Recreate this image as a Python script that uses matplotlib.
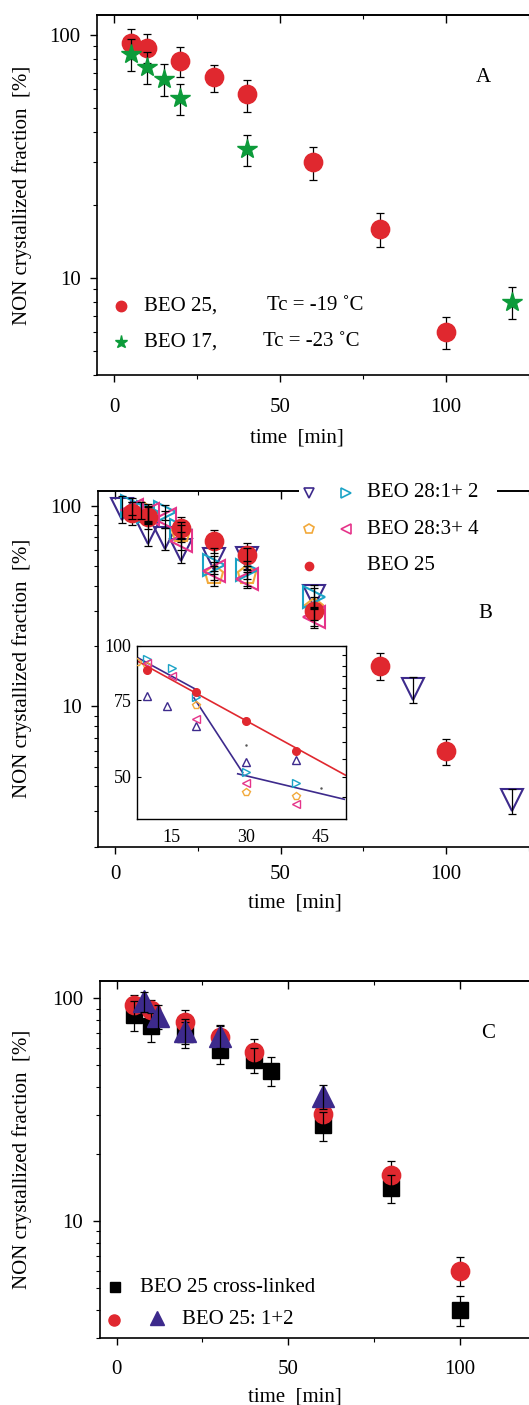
import matplotlib
matplotlib.use('Agg')
import matplotlib.pyplot as plt
from matplotlib.lines import Line2D
from matplotlib.patches import Rectangle
from matplotlib.ticker import FixedLocator, NullFormatter, LogLocator

plt.rcParams['font.family'] = ['Liberation Serif', 'DejaVu Serif']

# ---------------- data ----------------
# Panel A
a_beo25_t = [5, 10, 20, 30, 40, 60, 80, 100]
a_beo25_y = [92.5, 88.7, 78.2, 67, 57, 30, 16, 6.0]
a_beo25_e = [13, 12, 11, 8.5, 8.5, 4.6, 2.5, 0.9]
a_beo17_t = [5, 10, 15, 20, 40, 120]
a_beo17_y = [84, 74, 66, 55, 34, 8.0]
a_beo17_e = [12.5, 11, 10, 8, 5, 1.2]

# Panel B (main)
b_beo25_t = [5, 10, 20, 30, 40, 60, 80, 100]
b_beo25_y = [92, 88, 77.5, 67, 57, 29.8, 16, 6.0]
b_beo25_e = [12, 11, 10, 8.5, 8.5, 4.5, 2.5, 0.9]
b28_1_t = [2, 10, 15, 20, 30, 40, 60, 90, 120]
b28_1_y = [97, 73, 69, 60, 54.5, 55, 35.5, 12.2, 3.4]
b28_1_e = [15, 10, 9, 8, 7, 7, 5, 1.8, 0.5]
b28_2_t = [5, 10, 15, 20, 30, 40, 60]
b28_2_y = [100, 93, 93, 76, 51, 48, 35]
b28_2_e = [10, 9, 8, 7, 5, 5, 4]
b28_3_t = [8, 10, 20, 30, 40, 60]
b28_3_y = [95, 90, 73, 45, 45, 31]
b28_3_e = [9, 9, 7, 5, 5, 4]
b28_4_t = [5, 10, 15, 20, 30, 40, 60]
b28_4_y = [95, 91, 86, 67, 47.5, 43, 28]
b28_4_e = [9, 9, 8, 7, 5, 4, 3.5]

# Panel B (inset)
in_b28_1_t = [10, 14, 20, 30, 40]
in_b28_1_y = [76.6, 72.7, 65.5, 54.0, 54.5]
in_b28_2_t = [10, 15, 20, 30, 40]
in_b28_2_y = [93.3, 89.1, 76.2, 51.3, 48.3]
in_b28_3_t = [8, 10, 20, 30, 40]
in_b28_3_y = [91.6, 90, 73, 46.2, 45.2]
in_b28_4_t = [10, 15, 20, 30, 40]
in_b28_4_y = [91.2, 85.1, 68.0, 48.3, 43.2]
in_beo25_t = [10, 20, 30, 40]
in_beo25_y = [88.1, 78.3, 67.2, 57.3]
in_dots_t = [30, 45]
in_dots_y = [59.2, 47.1]
fit_beo25_t = [8, 50]
fit_beo25_y = [92.4, 50.4]
fit_b28_seg1_t = [7.8, 19.7]
fit_b28_seg1_y = [94.4, 79.6]
fit_b28_seg2_t = [19.5, 29.3]
fit_b28_seg2_y = [75.9, 51.1]
fit_b28_seg3_t = [28.3, 49.7]
fit_b28_seg3_y = [50.8, 44.4]

# Panel C
c_xl_t = [5, 10, 20, 30, 40, 45, 60, 80, 100]
c_xl_y = [84, 75, 69, 58.7, 53, 47.3, 26.9, 14.1, 4.0]
c_xl_e = [13, 11, 9, 8, 7, 7, 4, 2, 0.6]
c_beo25_t = [5, 10, 20, 30, 40, 60, 80, 100]
c_beo25_y = [93, 88.6, 78.6, 67.3, 57.7, 30.3, 16.1, 6.0]
c_beo25_e = [11, 10, 10, 8, 8, 4.5, 2.5, 0.9]
c_tri_t = [8, 12, 20, 30, 60]
c_tri_y = [97, 83, 71.5, 68, 36.3]
c_tri_e = [10, 10, 9, 8, 4.5]

xticks_major = [0, 50, 100]
xticks_minor = [25, 75, 125]

# ---------------- colours ----------------
RED = '#E0282F'
GREEN = '#0C9B3A'
PURPLE = '#3D2A8C'
CYAN = '#1BA3C6'
ORANGE = '#F2A93B'
PINK = '#E5348A'

W, H = 529, 1405
fig = plt.figure(figsize=(W / 100, H / 100), dpi=100)


def fx(px):
    return px / W


def fy(py):
    return 1 - py / H


def axes_px(l, t, r, b):
    return fig.add_axes([l / W, 1 - b / H, (r - l) / W, (b - t) / H])


def style_main(ax, ylim, xpad):
    ax.set_yscale('log')
    ax.set_xlim(-5, 130)
    ax.set_ylim(*ylim)
    ax.set_xticks(xticks_major)
    ax.set_xticklabels([str(v) for v in xticks_major])
    ax.xaxis.set_minor_locator(FixedLocator(xticks_minor))
    ax.set_yticks([10, 100])
    ax.set_yticklabels(['10', '100'])
    ax.yaxis.set_minor_locator(LogLocator(base=10, subs=range(2, 10), numticks=20))
    ax.yaxis.set_minor_formatter(NullFormatter())
    ax.tick_params(which='major', direction='out', length=5, width=1.0,
                   labelsize=15, top=False, right=False)
    ax.tick_params(which='minor', direction='out', length=3, width=0.8,
                   top=False, right=False)
    ax.tick_params(axis='x', which='major', pad=xpad)
    ax.tick_params(axis='y', which='major', pad=7)
    for s in ax.spines.values():
        s.set_linewidth(1.2)
    ax.spines['right'].set_visible(False)
    sec = ax.secondary_xaxis('top')
    sec.set_xticks(xticks_major)
    sec.xaxis.set_minor_locator(FixedLocator(xticks_minor))
    sec.tick_params(which='major', direction='in', length=6, width=1.0, labeltop=False)
    sec.tick_params(which='minor', direction='in', length=3, width=0.8)
    sec.spines['top'].set_linewidth(1.2)


def eb(ax, t, y, e, z):
    ax.errorbar(t, y, yerr=e, fmt='none', ecolor='black', elinewidth=0.9,
                capsize=3, capthick=0.9, zorder=z)


def fig_marker(x, y, **kw):
    fig.add_artist(Line2D([fx(x)], [fy(y)], transform=fig.transFigure,
                          linestyle='none', zorder=6, **kw))


def fig_text(x, y, s, size=15, ha='left', **kw):
    fig.text(fx(x), fy(y), s, ha=ha, va='center', fontsize=size, zorder=6, **kw)


def panel_labels(top, bottom):
    fig_text(22, (top + bottom) / 2, 'NON crystallized fraction  [%]',
             ha='center', rotation=90)


# ---------------- Panel A ----------------
axA = axes_px(97.4, 15, 545.6, 375)
style_main(axA, (4, 121), 11.5)
eb(axA, a_beo25_t, a_beo25_y, a_beo25_e, 2)
axA.plot(a_beo25_t, a_beo25_y, 'o', color=RED, ms=13.2, mec=RED, zorder=3)
eb(axA, a_beo17_t, a_beo17_y, a_beo17_e, 4)
axA.plot(a_beo17_t, a_beo17_y, '*', color=GREEN, ms=15, mec=GREEN, zorder=5)
panel_labels(15, 375)
fig_text(297, 438, 'time  [min]', ha='center')
fig_text(483, 77, 'A', ha='center')
fig_marker(121, 306, marker='o', color=RED, ms=7.5, mec=RED)
fig_text(144, 306, 'BEO 25,')
fig_text(267, 306, 'Tc = -19 ˚C')
fig_marker(121, 342, marker='*', color=GREEN, ms=9.5, mec=GREEN)
fig_text(144, 342, 'BEO 17,')
fig_text(263, 342, 'Tc = -23 ˚C')

# ---------------- Panel B ----------------
axB = axes_px(98.45, 490.7, 545.3, 846.7)
style_main(axB, (2.0, 119), 7.9)
open_kw = dict(mfc='none', linestyle='none', zorder=3)
axB.plot(b28_1_t, b28_1_y, marker='v', ms=15.6, mec=PURPLE, mew=1.5, **open_kw)
axB.plot(b28_3_t, b28_3_y, marker='p', ms=14, mec=ORANGE, mew=1.5, **open_kw)
axB.plot(b28_2_t, b28_2_y, marker='>', ms=15.6, mec=CYAN, mew=1.5, **open_kw)
axB.plot(b28_4_t, b28_4_y, marker='<', ms=15.6, mec=PINK, mew=1.5, **open_kw)
eb(axB, b_beo25_t, b_beo25_y, b_beo25_e, 2)
axB.plot(b_beo25_t, b_beo25_y, 'o', color=RED, ms=13.2, mec=RED, zorder=4)
for t, y, e in [(b28_1_t, b28_1_y, b28_1_e), (b28_2_t, b28_2_y, b28_2_e),
                (b28_3_t, b28_3_y, b28_3_e), (b28_4_t, b28_4_y, b28_4_e)]:
    eb(axB, t, y, e, 5)
panel_labels(490.7, 846.7)
fig_text(295, 903, 'time  [min]', ha='center')
fig_text(485, 614, 'B', ha='center')

# legend B (covers top spine)
fig.add_artist(Rectangle((fx(299), fy(500)), fx(497) - fx(299), fy(482) - fy(500),
                         transform=fig.transFigure, facecolor='white',
                         edgecolor='none', zorder=5))
lg_kw = dict(mfc='none', mew=1.2)
fig_marker(309, 492.7, marker='v', ms=7, mec=PURPLE, **lg_kw)
fig_marker(346, 492.7, marker='>', ms=7, mec=CYAN, **lg_kw)
fig_text(367, 492.7, 'BEO 28:1+ 2')
fig_marker(309, 529, marker='p', ms=7, mec=ORANGE, **lg_kw)
fig_marker(346, 529, marker='<', ms=7, mec=PINK, **lg_kw)
fig_text(367, 529, 'BEO 28:3+ 4')
fig_marker(309, 565.7, marker='o', ms=6, color=RED, mec=RED)
fig_text(367, 565.7, 'BEO 25')

# inset
axI = axes_px(136.7, 645.7, 345.7, 819)
axI.set_yscale('log')
axI.set_xlim(8, 50)
axI.set_ylim(40, 100)
axI.set_xticks([15, 30, 45])
axI.set_xticklabels(['15', '30', '45'])
axI.set_yticks([50, 75, 100])
axI.set_yticklabels(['50', '75', '100'])
axI.yaxis.set_minor_locator(FixedLocator([45, 55, 60, 65, 70, 80, 85, 90, 95]))
axI.yaxis.set_minor_formatter(NullFormatter())
axI.tick_params(axis='y', which='major', direction='in', length=3, width=0.8,
                left=True, right=True, labelsize=13, pad=3.6)
axI.tick_params(axis='y', which='minor', direction='in', length=3, width=0.8,
                left=False, right=True)
axI.tick_params(axis='x', which='major', direction='in', length=0, labelsize=13, pad=7)
for s in axI.spines.values():
    s.set_linewidth(1.0)
ikw = dict(mfc='none', mew=1.0, linestyle='none', zorder=3)
axI.plot(fit_beo25_t, fit_beo25_y, '-', color=RED, lw=1.2, zorder=2)
axI.plot(fit_b28_seg1_t, fit_b28_seg1_y, '-', color=PURPLE, lw=1.2, zorder=2)
axI.plot(fit_b28_seg2_t, fit_b28_seg2_y, '-', color=PURPLE, lw=1.2, zorder=2)
axI.plot(fit_b28_seg3_t, fit_b28_seg3_y, '-', color=PURPLE, lw=1.2, zorder=2)
axI.plot(in_b28_1_t, in_b28_1_y, marker='^', ms=5.5, mec=PURPLE, **ikw)
axI.plot(in_b28_2_t, in_b28_2_y, marker='>', ms=6, mec=CYAN, **ikw)
axI.plot(in_b28_3_t, in_b28_3_y, marker='p', ms=6, mec=ORANGE, **ikw)
axI.plot(in_b28_4_t, in_b28_4_y, marker='<', ms=6, mec=PINK, **ikw)
axI.plot(in_beo25_t, in_beo25_y, 'o', color=RED, ms=5.5, mec=RED, zorder=4)
axI.plot(in_dots_t, in_dots_y, '.', color='#555555', ms=1.5, zorder=3)

# ---------------- Panel C ----------------
axC = axes_px(99.55, 980.7, 562.6, 1337.7)
style_main(axC, (3.0, 120), 10.8)
axC.plot(c_xl_t, c_xl_y, 's', color='black', ms=11, zorder=2.5)
eb(axC, c_beo25_t, c_beo25_y, c_beo25_e, 2)
axC.plot(c_beo25_t, c_beo25_y, 'o', color=RED, ms=13.2, mec=RED, zorder=3)
eb(axC, c_xl_t, c_xl_y, c_xl_e, 4)
axC.plot(c_tri_t, c_tri_y, '^', color=PURPLE, ms=16, mec=PURPLE, zorder=5)
eb(axC, c_tri_t, c_tri_y, c_tri_e, 6)
panel_labels(980.7, 1337.7)
fig_text(295, 1397, 'time  [min]', ha='center')
fig_text(488, 1033, 'C', ha='center')
fig_marker(115, 1287, marker='s', color='black', ms=7.5)
fig_text(140, 1287, 'BEO 25 cross-linked')
fig_marker(114, 1320, marker='o', color=RED, mec=RED, ms=8)
fig_marker(157, 1318, marker='^', color=PURPLE, mec=PURPLE, ms=10)
fig_text(182, 1320, 'BEO 25: 1+2')

fig.savefig('out.png', dpi=100)
